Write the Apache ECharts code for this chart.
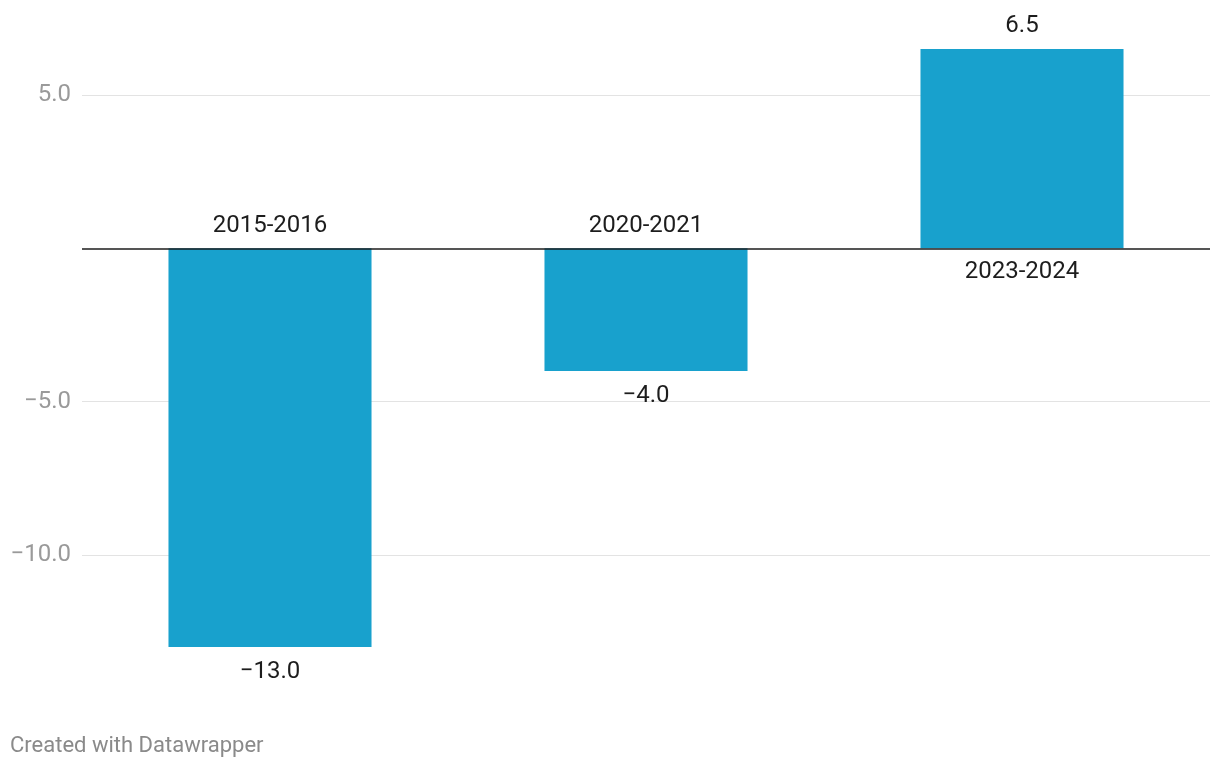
<!DOCTYPE html>
<html>
<head>
<meta charset="utf-8">
<script src="https://cdn.jsdelivr.net/npm/echarts@6/dist/echarts.min.js"></script>
<style>
html,body{margin:0;padding:0;background:#fff;}
#chart{width:1220px;height:768px;}
</style>
</head>
<body>
<div id="chart"></div>
<script>
const categories = ['2015-2016', '2020-2021', '2023-2024'];
const values = [-13.0, -4.0, 6.5];
const tickValues = [5, -5, -10];
const footerText = 'Created with Datawrapper';

const fmt = v => (v < 0 ? '\u2212' : '') + Math.abs(v).toFixed(1);
const FONT = 'Roboto';

const chart = echarts.init(document.getElementById('chart'), null, {renderer: 'canvas'});
chart.setOption({
  animation: false,
  backgroundColor: '#ffffff',
  textStyle: {fontFamily: FONT},
  graphic: [{
    type: 'text', left: 10, top: 735,
    style: {text: footerText, fill: '#8a8a8a', font: '22px Roboto'}
  }],
  grid: {left: 82, right: 10, top: 3, height: 674.7, containLabel: false},
  xAxis: {
    type: 'category', data: categories,
    axisLine: {show: false}, axisTick: {show: false}, axisLabel: {show: false}, splitLine: {show: false}
  },
  yAxis: {
    type: 'value', min: -14, max: 8, interval: 1,
    axisLine: {show: false}, axisTick: {show: false}, splitLine: {show: false},
    axisLabel: {
      margin: 11, color: '#9a9a9a', fontSize: 24, fontFamily: FONT, padding: [3, 0, 0, 0],
      formatter: v => tickValues.indexOf(v) >= 0 ? fmt(v) : ''
    }
  },
  series: [
    {
      type: 'scatter', z: 1, symbolSize: 0, silent: true,
      itemStyle: {opacity: 1},
      data: categories.map((c, i) => ({
        value: [c, 0],
        label: {
          show: true, position: values[i] < 0 ? 'top' : 'bottom', distance: values[i] < 0 ? 10 : 12,
          formatter: c, color: '#1d1d1d', fontSize: 24, fontFamily: FONT, opacity: 1
        }
      })),
      markLine: {
        z: 1, silent: true, symbol: 'none', label: {show: false},
        lineStyle: {color: '#e3e3e3', width: 1, type: 'solid'},
        data: tickValues.map(v => ({yAxis: v}))
      }
    },
    {
      type: 'bar', z: 3, barWidth: '54%',
      itemStyle: {color: '#18a1cd'},
      data: values.map(v => ({
        value: v,
        label: {
          show: true, position: v < 0 ? 'bottom' : 'top', distance: v < 0 ? 13 : 11,
          formatter: fmt(v), color: '#1d1d1d', fontSize: 24, fontFamily: FONT
        }
      })),
      markLine: {
        z: 5, silent: true, symbol: 'none', label: {show: false},
        lineStyle: {color: '#1d1d1d', width: 1.5, type: 'solid'},
        data: [{yAxis: 0}]
      }
    }
  ]
});
</script>
</body>
</html>
